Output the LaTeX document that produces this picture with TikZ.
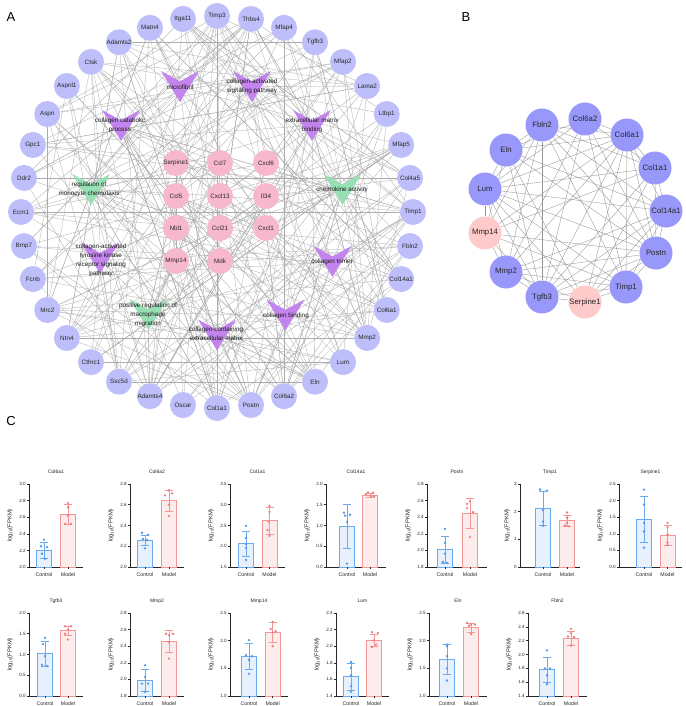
\documentclass[tikz,border=0pt]{standalone}
\usepackage{fontspec}
\setmainfont{Liberation Sans}
\pgfdeclarelayer{bg}
\pgfdeclarelayer{paper}
\pgfsetlayers{paper,bg,main}
\definecolor{lav}{RGB}{190,190,250}
\definecolor{pinkn}{RGB}{248,184,204}
\definecolor{vpur}{RGB}{196,132,238}
\definecolor{vgrn}{RGB}{150,224,180}
\definecolor{bblue}{RGB}{152,152,250}
\definecolor{bpink}{RGB}{255,202,202}
\definecolor{edgec}{RGB}{172,172,172}
\definecolor{bedgec}{RGB}{150,150,150}
\definecolor{cline}{RGB}{105,170,240}
\definecolor{cfill}{RGB}{230,241,253}
\definecolor{cdot}{RGB}{80,150,235}
\definecolor{mline}{RGB}{244,150,150}
\definecolor{mfill}{RGB}{253,236,236}
\definecolor{mdot}{RGB}{238,125,125}
\tikzset{
  outer/.style={circle, fill=lav, minimum size=26pt, inner sep=0pt, font=\fontsize{6.3}{7}\selectfont, text=black!85},
  pinknode/.style={circle, fill=pinkn, minimum size=26pt, inner sep=0pt, font=\fontsize{6.3}{7}\selectfont, text=black!85},
  termlab/.style={align=center, inner sep=0pt, font=\fontsize{6.3}{8.8}\selectfont, text=black!90},
  edge/.style={draw=edgec, line width=0.3pt},
  bedge/.style={draw=bedgec, line width=0.35pt},
  bnode/.style={circle, fill=bblue, minimum size=33pt, inner sep=0pt, font=\fontsize{7.8}{9}\selectfont, text=black!85},
  bpnode/.style={bnode, fill=bpink},
  panel/.style={font=\fontsize{13}{14}\selectfont, inner sep=0pt},
  axisln/.style={draw=black!85, line width=0.6pt},
  ticklab/.style={font=\fontsize{4.6}{5}\selectfont, inner sep=1pt, text=black!85},
  ctitle/.style={font=\fontsize{5}{6}\selectfont, text=black!85},
  xlab/.style={font=\fontsize{5.2}{6}\selectfont, text=black!85},
  ylab/.style={font=\fontsize{5.8}{6.5}\selectfont, text=black!85}
}
\newcommand\vshp[3]{\fill[#3] (#1-19,#2-15.5) -- (#1,#2-5.2) -- (#1+19,#2-15.5) -- (#1,#2+15.5) -- cycle;}
% #1 ax, #2 xe, #3 ybot, #4 ymin, #5 ymax, #6 ticks, #7 title, #8 ylabel offset
\newcommand\chartaxes[8]{%
  \xdef\CBot{#3}\xdef\CMin{#4}\xdef\CMax{#5}%
  \draw[axisln] (#1,#3-83) -- (#1,#3) -- (#2,#3);
  \foreach \tk in {#6} {
    \pgfmathsetmacro\ty{#3 - (\tk - #4)/(#5 - #4)*83}
    \draw[axisln] (#1,\ty) -- ++(-2,0) node[left, ticklab] {\tk};
  }
  \node[ctitle] at ({(#1+#2)/2}, #3-95) {#7};
  \node[ylab, rotate=90] at (#1-#8, #3-41.5) {log\textsubscript{10}(FPKM)};
}
% #1 x, #2 mean, #3 sd, #4 points, #5 line, #6 fill, #7 dot colour, #8 label
\newcommand\chartbar[8]{%
  \pgfmathsetmacro\yb{\CBot - (#2-\CMin)/(\CMax-\CMin)*83}
  \pgfmathsetmacro\yhi{\CBot - (#2+#3-\CMin)/(\CMax-\CMin)*83}
  \pgfmathsetmacro\ylo{\CBot - (#2-#3-\CMin)/(\CMax-\CMin)*83}
  \draw[draw=#5, line width=0.9pt, fill=#6] (#1-7.5,\CBot) rectangle (#1+7.5,\yb);
  \draw[draw=#5, line width=0.6pt] (#1,\ylo) -- (#1,\yhi) (#1-4,\yhi) -- (#1+4,\yhi) (#1-4,\ylo) -- (#1+4,\ylo);
  \foreach \pv/\dx in {#4} {
    \pgfmathsetmacro\py{\CBot - (\pv-\CMin)/(\CMax-\CMin)*83}
    \fill[#7] (#1+\dx,\py) circle (1.3pt);
  }
  \draw[axisln] (#1,\CBot) -- (#1,\CBot+2);
  \node[xlab] at (#1,\CBot+7.5) {#8};
}
\begin{document}
\begin{tikzpicture}[x=1pt, y=-1pt]
\useasboundingbox (0,0) rectangle (685,706);
\begin{pgfonlayer}{paper}
\fill[white] (0,0) rectangle (685,706);
\end{pgfonlayer}
% panel labels
\node[panel] (lA) at (11,17) {A};
\node[panel] (lB) at (466,17) {B};
\node[panel] (lC) at (11,421) {C};
% ---------------- Panel A ----------------
\vshp{180}{86.5}{vpur}
\vshp{252}{86.5}{vpur}
\vshp{121}{125.5}{vpur}
\vshp{312}{125.5}{vpur}
\vshp{91}{189.5}{vgrn}
\vshp{342.5}{189.5}{vgrn}
\vshp{100}{258}{vpur}
\vshp{332.5}{261.5}{vpur}
\vshp{148.5}{314.5}{vgrn}
\vshp{285.5}{315}{vpur}
\vshp{217}{335}{vpur}
\foreach \n [count=\i from 0] in {Timp3,Thbs4,Mfap4,Tgfb3,Mfap2,Lama2,Ltbp1,Mfap5,Col4a5,Timp1,Fbln2,Col14a1,Col6a1,Mmp2,Lum,Eln,Col6a2,Postn,Col1a1,Oscar,Adamts4,Ssc5d,Cthrc1,Ntn4,Mrc2,Fcnb,Bmp7,Ecm1,Ddr2,Gpc1,Aspn,Aspnl1,Ctsk,Adamts2,Matn4,Itga11}
  \node[outer] (o\i) at ({217+196*cos(90-10*\i)}, {212-196*sin(90-10*\i)}) {\n};
\foreach \n/\x/\y [count=\i] in {Serpine1/176/163, Ccl7/220/163, Cxcl6/266/163, Ccl5/176/196, Cxcl13/220/196, Il34/266/196, Nbl1/176/228, Ccl21/220/228, Cxcl1/266/228, Mmp14/176/261, Mdk/220/261}
  \node[pinknode] (p\i) at (\x,\y) {\n};
\node[termlab] (t1) at (180,87) {microfibril};
\node[termlab] (t2) at (252,86.5) {collagen-activated\\signaling pathway};
\node[termlab] (t3) at (120,125.5) {collagen catabolic\\process};
\node[termlab] (t4) at (312,125.5) {extracellular matrix\\binding};
\node[termlab] (t5) at (89,189) {regulation of\\monocyte chemotaxis};
\node[termlab] (t6) at (342,190) {chemokine activity};
\node[termlab] (t7) at (101,260.5) {collagen-activated\\tyrosine kinase\\receptor signaling\\pathway};
\node[termlab] (t8) at (332,262) {collagen trimer};
\node[termlab] (t9) at (148,315) {positive regulation of\\macrophage\\migration};
\node[termlab] (t10) at (286,316) {collagen binding};
\node[termlab] (t11) at (216,334) {collagen-containing\\extracellular matrix};
\begin{pgfonlayer}{bg}
\pgfmathsetseed{12}
\foreach \i in {0,...,35}{
  \foreach \k in {1,2,3}{
    \pgfmathrandominteger{\r}{5}{31}
    \pgfmathtruncatemacro\j{mod(\i+\r,36)}
    \draw[edge] (o\i) -- (o\j);
  }
  \foreach \k in {1,2}{
    \pgfmathrandominteger{\r}{1}{11}
    \draw[edge] (o\i) -- (t\r.center);
  }
}
\foreach \i in {1,...,11}{
  \foreach \k in {1,...,4}{
    \pgfmathrandominteger{\r}{0}{35}
    \draw[edge] (p\i) -- (o\r);
  }
  \pgfmathrandominteger{\r}{1}{11}
  \draw[edge] (p\i) -- (t\r.center);
}
\foreach \h in {0,1,9,13,15,16,17,18,20}{
  \foreach \k in {1,...,5}{
    \pgfmathrandominteger{\r}{1}{11}
    \draw[edge] (o\h) -- (t\r.center);
  }
  \foreach \k in {1,2}{
    \pgfmathrandominteger{\r}{1}{11}
    \draw[edge] (o\h) -- (p\r);
  }
}
\foreach \a/\b in {p1/p5,p2/p4,p3/p5,p4/p8,p5/p9,p7/p11,p8/p10,p6/p8,p1/p7,p2/p6,p9/p11,p4/p10}
  \draw[edge] (\a) -- (\b);
\foreach \a/\b in {t5/p2,t5/p4,t5/p5,t5/p8,t6/p3,t6/p6,t6/p9,t6/p2,t6/p8,t9/p4,t9/p6,t9/p11,t9/p2}
  \draw[edge] (\a.center) -- (\b);
\end{pgfonlayer}
% ---------------- Panel B ----------------
\foreach \n/\x/\y/\s [count=\i from 0] in {Col6a2/585/119/bnode, Col6a1/627/135/bnode, Col1a1/655/168/bnode, Col14a1/666/211/bnode, Postn/656/253/bnode, Timp1/626/287/bnode, Serpine1/585/302/bpnode, Tgfb3/542/297/bnode, Mmp2/506/272/bnode, Mmp14/485/233/bpnode, Lum/485/189/bnode, Eln/506/150/bnode, Fbln2/542/125/bnode}
  \node[\s] (b\i) at (\x,\y) {\n};
\begin{pgfonlayer}{bg}
\foreach \i in {0,...,11}{
  \pgfmathtruncatemacro\ii{\i+1}
  \foreach \j in {\ii,...,12}{
    \pgfmathtruncatemacro\keep{mod(\i*5+\j*2+\i*\j,6)}
    \ifnum\keep>0 \draw[bedge] (b\i) -- (b\j);\fi
  }
}
\end{pgfonlayer}
% ---------------- Panel C ----------------
% row 1
\chartaxes{29}{83}{567}{2.0}{3.0}{2.0,2.2,2.4,2.6,2.8,3.0}{Col6a1}{19}
\chartbar{44}{2.20}{0.10}{2.33/0,2.25/-3,2.24/3,2.16/-2,2.10/1}{cline}{cfill}{cdot}{Control}
\chartbar{68}{2.63}{0.12}{2.77/0,2.72/0,2.62/0,2.52/-3,2.52/3}{mline}{mfill}{mdot}{Model}
\chartaxes{130}{184}{567}{2.0}{2.8}{2.0,2.2,2.4,2.6,2.8}{Col6a2}{19}
\chartbar{145}{2.26}{0.05}{2.33/-3,2.31/3,2.27/-2,2.26/2,2.18/0}{cline}{cfill}{cdot}{Control}
\chartbar{169}{2.64}{0.10}{2.74/0,2.71/3,2.69/-4,2.60/0,2.49/0}{mline}{mfill}{mdot}{Model}
\chartaxes{230}{285}{567}{1.5}{3.5}{1.5,2.0,2.5,3.0,3.5}{Col1a1}{19}
\chartbar{246}{2.07}{0.30}{2.49/0,2.20/0,2.05/0,1.96/0,1.67/0}{cline}{cfill}{cdot}{Control}
\chartbar{269.5}{2.62}{0.33}{2.97/0,2.83/0,2.60/-1,2.39/-2,2.25/0}{mline}{mfill}{mdot}{Model}
\chartaxes{326}{386}{567}{0}{2}{0.0,0.5,1.0,1.5,2.0}{Col14a1}{19}
\chartbar{347}{0.98}{0.52}{1.31/-3,1.26/3,1.24/-2,1.08/0,0.08/0}{cline}{cfill}{cdot}{Control}
\chartbar{370}{1.72}{0.05}{1.80/-2,1.79/3,1.76/-4,1.71/1,1.70/4}{mline}{mfill}{mdot}{Model}
\chartaxes{427}{487}{567}{1.8}{2.8}{1.8,2.0,2.2,2.4,2.6,2.8}{Postn}{19}
\chartbar{445}{2.01}{0.16}{2.26/0,2.09/0,1.96/0,1.86/-2,1.85/2}{cline}{cfill}{cdot}{Control}
\chartbar{470}{2.45}{0.18}{2.59/0,2.56/-3,2.51/-3,2.46/3,2.16/0}{mline}{mfill}{mdot}{Model}
\chartaxes{520}{580}{567}{0}{3}{0,1,2,3}{Timp1}{13}
\chartbar{543}{2.12}{0.63}{2.80/-3,2.76/4,2.06/0,1.64/0,1.49/0}{cline}{cfill}{cdot}{Control}
\chartbar{567}{1.67}{0.21}{1.97/0,1.78/0,1.60/0,1.50/-2,1.47/2}{mline}{mfill}{mdot}{Model}
\chartaxes{619}{682}{567}{0}{2.5}{0.0,0.5,1.0,1.5,2.0,2.5}{Serpine1}{19}
\chartbar{644}{1.43}{0.69}{2.33/0,1.88/0,1.33/0,1.07/0,0.58/0}{cline}{cfill}{cdot}{Control}
\chartbar{667.5}{0.96}{0.31}{1.33/0,1.20/0,0.98/0,0.73/0,0.66/0}{mline}{mfill}{mdot}{Model}
% row 2
\chartaxes{29}{83}{696}{0}{2}{0.0,0.5,1.0,1.5,2.0}{Tgfb3}{19}
\chartbar{45}{1.02}{0.30}{1.40/0,1.25/-2,0.96/0,0.75/-3,0.72/2}{cline}{cfill}{cdot}{Control}
\chartbar{68}{1.57}{0.11}{1.68/-3,1.68/3,1.60/0,1.50/-3,1.36/0}{mline}{mfill}{mdot}{Model}
\chartaxes{130}{184}{696}{1.8}{2.8}{1.8,2.0,2.2,2.4,2.6,2.8}{Mmp2}{19}
\chartbar{145}{1.99}{0.13}{2.17/0,2.03/0,1.95/-3,1.95/3,1.85/0}{cline}{cfill}{cdot}{Control}
\chartbar{169}{2.46}{0.13}{2.55/-3,2.55/4,2.53/0,2.45/0,2.25/0}{mline}{mfill}{mdot}{Model}
\chartaxes{230}{288}{696}{1.0}{2.5}{1.0,1.5,2.0,2.5}{Mmp14}{19}
\chartbar{249}{1.72}{0.23}{2.01/0,1.74/-3,1.72/3,1.65/0,1.40/0}{cline}{cfill}{cdot}{Control}
\chartbar{272.7}{2.15}{0.18}{2.34/0,2.21/-2,2.17/3,2.15/0,1.90/0}{mline}{mfill}{mdot}{Model}
\chartaxes{336}{389}{696}{1.4}{2.4}{1.4,1.6,1.8,2.0,2.2,2.4}{Lum}{19}
\chartbar{351}{1.63}{0.16}{1.81/0,1.74/0,1.65/0,1.52/0,1.45/0}{cline}{cfill}{cdot}{Control}
\chartbar{374}{2.07}{0.07}{2.17/-2,2.16/4,2.07/0,2.02/2,1.99/-2}{mline}{mfill}{mdot}{Model}
\chartaxes{429}{487}{696}{1.0}{2.5}{1.0,1.5,2.0,2.5}{Eln}{19}
\chartbar{447}{1.66}{0.27}{1.93/0,1.90/0,1.72/0,1.50/0,1.28/0}{cline}{cfill}{cdot}{Control}
\chartbar{471}{2.24}{0.08}{2.32/-4,2.30/0,2.29/4,2.27/-2,2.12/0}{mline}{mfill}{mdot}{Model}
\chartaxes{528}{587}{696}{1.4}{2.6}{1.4,1.6,1.8,2.0,2.2,2.4,2.6}{Fbln2}{19}
\chartbar{547}{1.78}{0.18}{2.06/0,1.80/-2,1.80/3,1.70/0,1.57/0}{cline}{cfill}{cdot}{Control}
\chartbar{571}{2.23}{0.10}{2.37/0,2.31/0,2.26/-3,2.25/3,2.13/0}{mline}{mfill}{mdot}{Model}
\end{tikzpicture}
\end{document}
